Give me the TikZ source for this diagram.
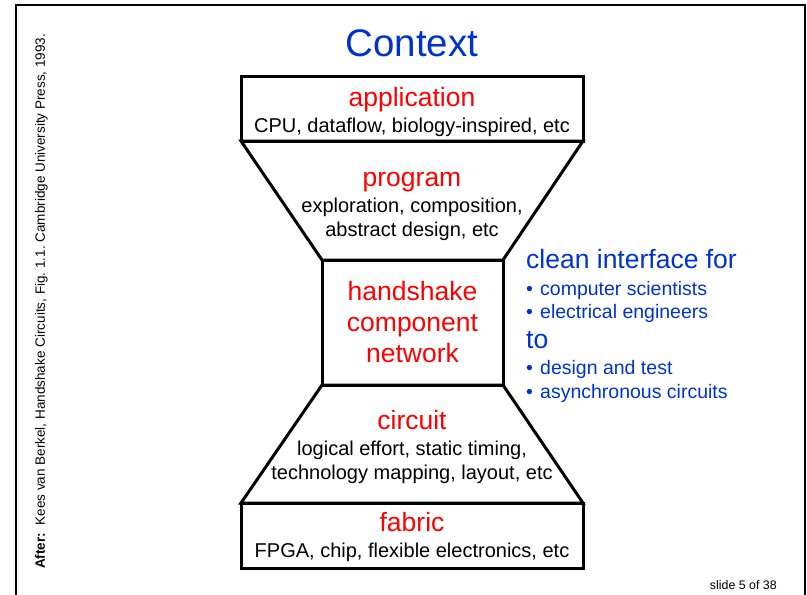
\documentclass[tikz,border=0pt]{standalone}
\usepackage{fontspec}
\setmainfont{Liberation Sans}
\frenchspacing
\definecolor{slideblue}{RGB}{0,51,204}
\definecolor{layerred}{RGB}{255,0,0}
\newcommand{\itembullet}{\makebox[14pt][l]{\textbullet}}
\begin{document}
\begin{tikzpicture}[x=1pt,y=-1pt,
  outline/.style={draw=black,line width=3pt,line join=miter},
  frame/.style={draw=black,line width=2pt},
  txt/.style={inner sep=0pt,anchor=base,text=black},
  layer/.style={txt,text=layerred,font=\fontsize{26.5}{31}\selectfont},
  detail/.style={txt,font=\fontsize{20}{24}\selectfont},
  side/.style={inner sep=0pt,anchor=base west,text=slideblue},
  sidehead/.style={side,font=\fontsize{26.5}{31}\selectfont},
  sideitem/.style={side,font=\fontsize{19.5}{23}\selectfont},
  small/.style={inner sep=0pt,font=\fontsize{12.4}{15}\selectfont}]
\useasboundingbox (0,0) rectangle (807,595);

% slide frame
\draw[frame] (16,610) -- (16,5) -- (805,5) -- (805,610);

% title
\node[txt,text=slideblue,font=\fontsize{38.5}{44}\selectfont] (title) at (412,56) {Context};

% hourglass of abstraction layers
\draw[outline] (241,76) rectangle (583,141);
\draw[outline] (241,141) -- (583,141) -- (503,260) -- (322,260) -- cycle;
\draw[outline] (322,260) rectangle (503,385);
\draw[outline] (322,385) -- (503,385) -- (583,503) -- (241,503) -- cycle;
\draw[outline] (241,503) rectangle (583,568);

% application
\node[layer] (app) at (412,106) {application};
\node[detail] (appd) at (412,132) {CPU, dataflow, biology-inspired, etc};

% program
\node[layer] (prog) at (412,186) {program};
\node[detail] (progd1) at (412,212) {exploration, composition,};
\node[detail] (progd2) at (412,236) {abstract design, etc};

% handshake component network
\node[layer] (hs1) at (412.5,300) {handshake};
\node[layer] (hs2) at (412.5,331) {component};
\node[layer] (hs3) at (412.5,362) {network};

% circuit
\node[layer] (circ) at (412,429) {circuit};
\node[detail] (circd1) at (412,455) {logical effort, static timing,};
\node[detail] (circd2) at (412,479) {technology mapping, layout, etc};

% fabric
\node[layer] (fab) at (412,531) {fabric};
\node[detail] (fabd) at (412,557) {FPGA, chip, flexible electronics, etc};

% interface notes
\node[sidehead] (ifor) at (526,268) {clean interface for};
\node[sideitem] (i1) at (526,295) {\itembullet computer scientists};
\node[sideitem] (i2) at (526,318) {\itembullet electrical engineers};
\node[sidehead] (ito) at (526,348) {to};
\node[sideitem] (i3) at (526,374) {\itembullet design and test};
\node[sideitem] (i4) at (526,398) {\itembullet asynchronous circuits};

% source reference and slide number
\node[inner sep=0pt,font=\fontsize{13.5}{16}\selectfont,rotate=90,anchor=base west] (src) at (45,569)
  {\textbf{After:}\ \ Kees van Berkel, Handshake Circuits, Fig. 1.1. Cambridge University Press, 1993.};
\node[small,anchor=base east] (num) at (777,589) {slide 5 of 38};
\end{tikzpicture}
\end{document}
